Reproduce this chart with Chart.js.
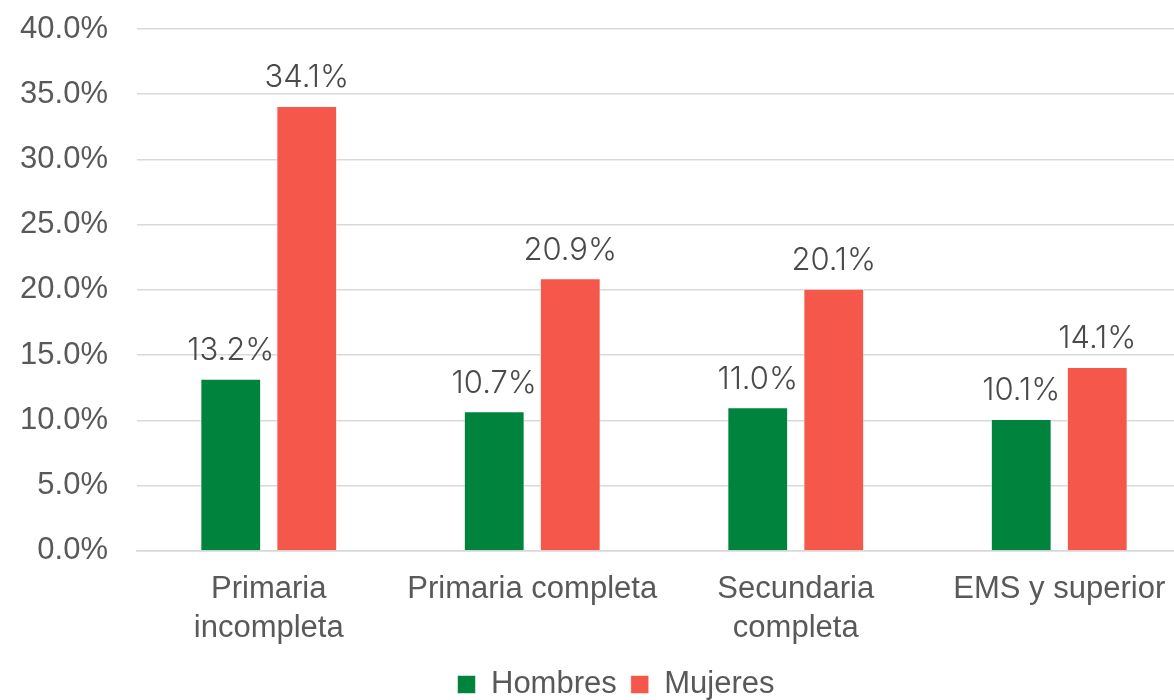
<!DOCTYPE html>
<html>
<head>
<meta charset="utf-8">
<script src="https://cdn.jsdelivr.net/npm/chart.js@4.4.0/dist/chart.umd.min.js"></script>
<style>
    html, body { margin: 0; background: #fff; overflow: hidden; }
    #wrap { width: 1174px; height: 700px; overflow: hidden; }
</style>
</head>
<body>
<div id="wrap"><canvas id="myChart" width="1232" height="714"></canvas></div>
<script>
var categories = [["Primaria", "incompleta"], "Primaria completa", ["Secundaria", "completa"], "EMS y superior"];
var hombres = [13.2, 10.7, 11.0, 10.1];
var mujeres = [34.1, 20.9, 20.1, 14.1];
var yTicks = [0, 5, 10, 15, 20, 25, 30, 35, 40];

var textColor = "#595959";

// labels on top of bars
var barLabels = {
    id: "barLabels",
    afterLayout: function (chart) {
        // legend is centred under the whole picture, not under the plot
        chart.legend.left = 41;
        chart.legend.top -= 4;
        chart.legend.bottom -= 4;
    },
    afterDatasetsDraw: function (chart) {
        var ctx = chart.ctx;
        ctx.save();
        ctx.font = "300 31px Inter, 'Open Sans', sans-serif";
        ctx.fillStyle = "#4a4a4a";
        ctx.textAlign = "center";
        ctx.textBaseline = "middle";
        chart.data.datasets.forEach(function (ds, i) {
            var meta = chart.getDatasetMeta(i);
            meta.data.forEach(function (bar, j) {
                ctx.fillText(ds.data[j].toFixed(1) + "%", bar.x, bar.y - 28);
            });
        });
        ctx.restore();
    }
};

var MyChart = new Chart(document.getElementById("myChart"), {
    type: "bar",
    data: {
        labels: categories,
        datasets: [{
            label: "Hombres",
            data: hombres,
            backgroundColor: "#00843D",
            borderColor: "#ffffff88",
            borderWidth: 1,
            categoryPercentage: 0.577,
            barPercentage: 0.8
        }, {
            label: "Mujeres",
            data: mujeres,
            backgroundColor: "#F5574A",
            borderColor: "#ffffff88",
            borderWidth: 1,
            categoryPercentage: 0.577,
            barPercentage: 0.8
        }]
    },
    options: {
        responsive: false,
        animation: false,
        layout: { padding: { left: 0, right: 41, top: 29, bottom: 0 } },
        plugins: {
            legend: {
                position: "bottom",
                labels: {
                    font: { family: "Arial, 'Liberation Sans'", size: 31 },
                    color: textColor,
                    boxWidth: 18,
                    boxHeight: 18,
                    padding: 14
                }
            },
            tooltip: { enabled: false }
        },
        scales: {
            x: {
                grid: { display: false },
                border: { color: "#d9d9d9", width: 1.5 },
                ticks: {
                    font: { family: "Arial, 'Liberation Sans'", size: 31, lineHeight: 1.26 },
                    color: textColor,
                    maxRotation: 0,
                    autoSkip: false,
                    padding: 11
                }
            },
            y: {
                min: 0,
                max: 40,
                afterBuildTicks: function (axis) {
                    axis.ticks = yTicks.map(function (v) { return { value: v }; });
                },
                afterFit: function (axis) { axis.width = 137; },
                grid: { color: "#d9d9d9", lineWidth: 1.5, drawTicks: true, tickLength: 29, tickColor: "transparent" },
                border: { display: false },
                ticks: {
                    font: { family: "Arial, 'Liberation Sans'", size: 31 },
                    color: textColor,
                    padding: 0,
                    callback: function (v) { return v.toFixed(1) + "%"; }
                }
            }
        }
    },
    plugins: [barLabels]
});
</script>
</body>
</html>
